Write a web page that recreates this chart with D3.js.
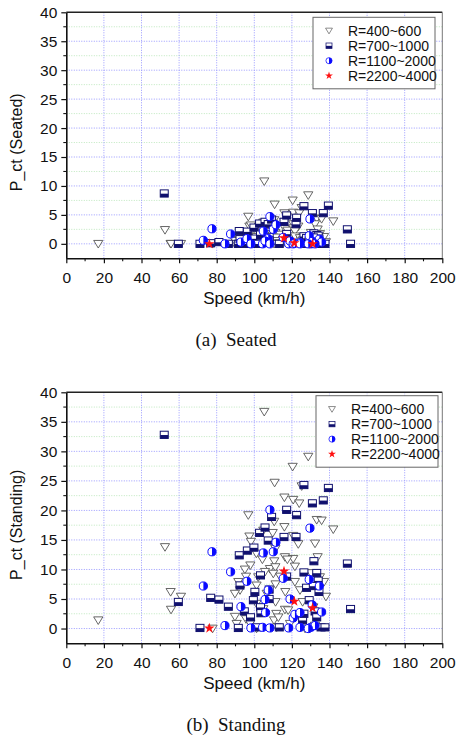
<!DOCTYPE html>
<html><head><meta charset="utf-8">
<script src="https://cdn.jsdelivr.net/npm/d3@7"></script>
<style>
html,body{margin:0;padding:0;background:#fff;}
text{font-family:"Liberation Sans",Arial,sans-serif;fill:#111;}
.cap{font-family:"Liberation Serif","Times New Roman",serif;white-space:pre;}
</style></head>
<body>
<svg id="chart" width="457" height="738"></svg>
<script>
// ---------- data ----------
const seriesNames = ["R=400~600", "R=700~1000", "R=1100~2000", "R=2200~4000"];
const xTicks = [0, 20, 40, 60, 80, 100, 120, 140, 160, 180, 200];
const yTicks = [0, 5, 10, 15, 20, 25, 30, 35, 40];
const xLabel = "Speed (km/h)";
const yLabels = ["P_ct (Seated)", "P_ct (Standing)"];
const captions = ["(a)  Seated", "(b)  Standing"];

// R=400~600
const r400Speed    = [17,52.5,55.5,61,55.7,105.3,128.7,120.4,110.8,125.2,116,120.7,123.9,96.8,110.6,133.2,135.8,142,116,104.8,109.8,97.4,120.7,98.2,132.3,123.4,111.2,101.1,104.3,116.3,120.7,133.7,110.6,117.6,97.9,95,108.3,111.2,121.6,105.7,110.1,113.7,102.1,95.6,130.1,134.9,137.1,91.5,101.2,121.6,111.3,116.5,92.4,89.7,124.3,138.1,106.6,111.3,125.7,116.3,101.2,104.8,111.7,89.7,95.6,110.5,112.8,90.6,97.8,77.8,101.2,111.9,119,127,132.3,131.4,118];
const r400Standing = [1.4,13.8,6.2,5.4,3.2,36.7,29.1,27.4,24.7,24.1,22.2,21.8,21.2,19.2,18.1,18.4,18.3,16.8,17.2,16.6,16.2,15.6,15.7,14.7,14.4,14.3,13.5,12.7,11.7,12.1,11.8,12.1,11.4,11.7,10.7,10.0,10.1,10.4,10.5,9.6,9.3,8.8,8.7,8.8,9.4,8.7,7.9,7.9,7.3,7.9,7.5,6.2,6.5,5.9,6.5,5.4,5.9,4.5,4.5,3.2,4.2,3.3,2.5,2.0,1.6,1.4,1.9,0.8,0.8,0,0,0.2,0.8,0,0.5,3.6,3.1];
const r400Seated   = [0,2.4,0,0,0,10.8,8.4,7.5,6.8,6.2,5.3,5.4,5.3,4.7,4.1,4.4,4.3,3.9,3.8,3.7,3.5,3.0,3.4,3.2,3.4,3.0,3.1,2.6,2.4,2.6,2.7,2.5,2.2,2.3,2.0,1.8,2.1,1.9,2.2,1.7,1.8,1.6,1.5,1.4,1.9,1.7,1.2,0.9,1.2,1.3,1.1,0.9,0.7,0.5,1.0,0.3,0.8,0.5,0.6,0.3,0.4,0.2,0.1,0,0,0,0,0,0,0,0,0,0,0,0,0.4,0.3];

// R=700~1000
const r700Speed    = [52.1,59.6,71.1,76.8,81.2,86.2,91.5,92,92.4,94.7,96.3,98,99.8,99.5,100.3,102.8,103.3,103.3,103.5,105.7,107.4,107.9,107.9,109.2,113.3,115.8,117.2,117.2,122.2,122.5,126.4,126.4,125.7,126.4,127.8,129.2,130.9,131.7,132.3,133.2,134.0,134.4,133.2,135.5,136.7,137.6,139.4,149.5,151.2,101.2,131.4];
const r700Standing = [32.8,4.5,0.1,5.2,4.9,3.7,0.1,12.4,7.3,2.9,13.2,1.9,13.7,4.8,6.2,16.2,9.0,3.6,2.6,17.1,14.9,6.6,5.0,18.9,0.2,15.5,20.1,8.8,15.5,19.2,24.3,9.5,1.4,2.5,6.9,4.8,21.2,11.4,2.9,9.4,8.1,6.2,1.9,0.2,21.7,0.2,23.8,11.0,3.3,0.2,7.2];
const r700Seated   = [8.7,0,0,0.1,0.3,0,0,2.2,0.8,0,2.1,0,2.8,0.5,0.9,3.5,1.6,0.3,0.1,3.8,3.4,1.2,0.6,4.2,0,3.8,4.9,1.7,3.4,4.5,6.5,1.3,0,0.2,1.0,0.5,5.3,1.8,0.1,1.5,1.4,0.9,0,0,5.3,0,6.6,2.5,0,0,1.1];

// R=1100~2000
const r1100Speed    = [72.9,77.5,84.4,87.4,92.9,96.1,98.2,104.8,106,104.4,107.4,108.3,105.7,108.3,110.1,111.5,115.4,118.3,119,120.7,121.6,124.3,124.3,129.6,129.2,130.1,130.8,134.6,135.8,132.3,128.7];
const r1100Standing = [7.2,13.0,0.5,9.6,3.7,8.0,0.1,12.8,2.7,0.2,6.5,20.1,4.9,0.1,13.0,14.6,8.5,0.1,5.0,1.8,2.4,2.7,0.2,17.0,8.3,0.2,4.0,7.2,2.8,0.5,0];
const r1100Seated   = [0.6,2.6,0,1.7,0.3,0.9,0,2.2,0.2,0,0.9,4.7,0.5,0,2.5,3.3,1.1,0,0.5,0,0.1,0.2,0,4.3,1.4,0,0.4,0.8,0.3,0,0];

// R=2200~4000
const r2200Speed    = [76.1,115.8,121.3,131];
const r2200Standing = [0.05,9.7,4.6,3.5];
const r2200Seated   = [0,1.0,0.15,0];

// ---------- build ----------
const series = [
  {name: seriesNames[0], type: "tri",  speed: r400Speed,  vals: [r400Seated,  r400Standing]},
  {name: seriesNames[1], type: "sq",   speed: r700Speed,  vals: [r700Seated,  r700Standing]},
  {name: seriesNames[2], type: "circ", speed: r1100Speed, vals: [r1100Seated, r1100Standing]},
  {name: seriesNames[3], type: "star", speed: r2200Speed, vals: [r2200Seated, r2200Standing]}
];

const panels = [
  {left: 66.3, right: 442.3, top: 12.3, bottom: 258.3, legX: 313, legY: 17.3, capY: 346, xlabY: 304},
  {left: 66.3, right: 442.3, top: 392.3, bottom: 643.3, legX: 316, legY: 395.7, capY: 730.5, xlabY: 689}
];

const svg = d3.select("#chart");
const NAVY = "#10106e", BLUE = "#0a0aff", RED = "#ff1010", GRAY = "#555";

function drawMarker(g, type) {
  if (type === "tri") {
    g.append("path").attr("d", "M-4.6,-3.4L4.6,-3.4L0,4.2Z")
      .attr("fill", "#fff").attr("stroke", GRAY).attr("stroke-width", 0.9);
  } else if (type === "sq") {
    g.append("rect").attr("x", -4).attr("y", -3.6).attr("width", 8).attr("height", 7.2)
      .attr("fill", "#fff").attr("stroke", NAVY).attr("stroke-width", 1);
    g.append("rect").attr("x", -4).attr("y", 0.2).attr("width", 8).attr("height", 3.4)
      .attr("fill", NAVY);
  } else if (type === "circ") {
    g.append("circle").attr("r", 4.1).attr("fill", "#fff").attr("stroke", BLUE).attr("stroke-width", 1);
    g.append("path").attr("d", "M0,-4.1A4.1,4.1 0 0 1 0,4.1Z").attr("fill", BLUE);
  } else {
    g.append("path").attr("d", d3.symbol(d3.symbolStar, 34)()).attr("fill", RED);
  }
}

panels.forEach((p, pi) => {
  const x = d3.scaleLinear().domain([0, 200]).range([p.left, p.right]);
  const y = d3.scaleLinear().domain([-2.5, 40]).range([p.bottom, p.top]);
  const G = svg.append("g");

  // grid
  const minorY = d3.range(2.5, 40, 5);
  G.selectAll(".gm").data(minorY).join("line")
    .attr("x1", p.left).attr("x2", p.right).attr("y1", d => y(d)).attr("y2", d => y(d))
    .attr("stroke", "#bfe8bf").attr("stroke-width", 1).attr("stroke-dasharray", "1,1.5");
  G.selectAll(".gy").data(yTicks.filter(d => d < 40)).join("line")
    .attr("x1", p.left).attr("x2", p.right).attr("y1", d => y(d)).attr("y2", d => y(d))
    .attr("stroke", "#9a9aff").attr("stroke-width", 1).attr("stroke-dasharray", "1,1.5");
  G.selectAll(".gx").data(xTicks.filter(d => d > 0 && d < 200)).join("line")
    .attr("x1", d => x(d)).attr("x2", d => x(d)).attr("y1", p.top).attr("y2", p.bottom)
    .attr("stroke", "#9a9aff").attr("stroke-width", 1).attr("stroke-dasharray", "1,1.5");

  // frame
  G.append("line").attr("x1", p.left).attr("x2", p.right).attr("y1", p.top).attr("y2", p.top)
    .attr("stroke", "#222").attr("stroke-width", 1.4);
  G.append("line").attr("x1", p.right).attr("x2", p.right).attr("y1", p.top).attr("y2", p.bottom)
    .attr("stroke", "#777").attr("stroke-width", 1);

  // points
  series.forEach(s => {
    const vals = s.vals[pi];
    s.speed.forEach((sp, i) => {
      const g = G.append("g").attr("transform", `translate(${x(sp)},${y(vals[i])})`);
      drawMarker(g, s.type);
    });
  });

  // axes
  const xAxis = d3.axisBottom(x).tickValues(xTicks).tickSize(5).tickSizeOuter(0).tickPadding(5);
  const gx = G.append("g").attr("transform", `translate(0,${p.bottom})`).call(xAxis);
  gx.selectAll("text").attr("font-size", 15.5).attr("dy", "0.93em").style("font-family", "Liberation Sans, Arial, sans-serif");
  const yAxis = d3.axisLeft(y).tickValues(yTicks).tickSize(5).tickSizeOuter(0).tickPadding(4);
  const gy = G.append("g").attr("transform", `translate(${p.left},0)`).call(yAxis);
  gy.selectAll("text").attr("font-size", 15.5).style("font-family", "Liberation Sans, Arial, sans-serif");
  [gx, gy].forEach(a => {
    a.select(".domain").attr("stroke", "#111").attr("stroke-width", 1.6);
    a.selectAll(".tick line").attr("stroke", "#111").attr("stroke-width", 1.2);
  });
  // minor ticks
  G.selectAll(".mx").data(d3.range(10, 200, 20)).join("line")
    .attr("x1", d => x(d)).attr("x2", d => x(d)).attr("y1", p.bottom).attr("y2", p.bottom + 3)
    .attr("stroke", "#111").attr("stroke-width", 1.1);
  G.selectAll(".my").data(minorY).join("line")
    .attr("x1", p.left - 3).attr("x2", p.left).attr("y1", d => y(d)).attr("y2", d => y(d))
    .attr("stroke", "#111").attr("stroke-width", 1.1);

  // labels
  G.append("text").attr("x", (p.left + p.right) / 2).attr("y", p.xlabY)
    .attr("text-anchor", "middle").attr("font-size", 17).text(xLabel);
  G.append("text").attr("transform", `translate(22,${(p.top + p.bottom) / 2 + 7}) rotate(-90)`)
    .attr("text-anchor", "middle").attr("font-size", 16).text(yLabels[pi]);
  G.append("text").attr("class", "cap").attr("x", 236).attr("y", p.capY)
    .attr("text-anchor", "middle").attr("font-size", 19).text(captions[pi]);

  // legend
  const L = G.append("g").attr("transform", `translate(${p.legX},${p.legY})`);
  L.append("rect").attr("width", 122).attr("height", 71.5).attr("fill", "#fff")
    .attr("stroke", "#666").attr("stroke-width", 1);
  series.forEach((s, i) => {
    const cy = 13.4 + i * 15;
    drawMarker(L.append("g").attr("transform", `translate(16,${cy}) scale(0.75)`), s.type);
    L.append("text").attr("x", 35).attr("y", cy + 5).attr("font-size", 14).text(s.name);
  });
});
</script>
</body></html>
